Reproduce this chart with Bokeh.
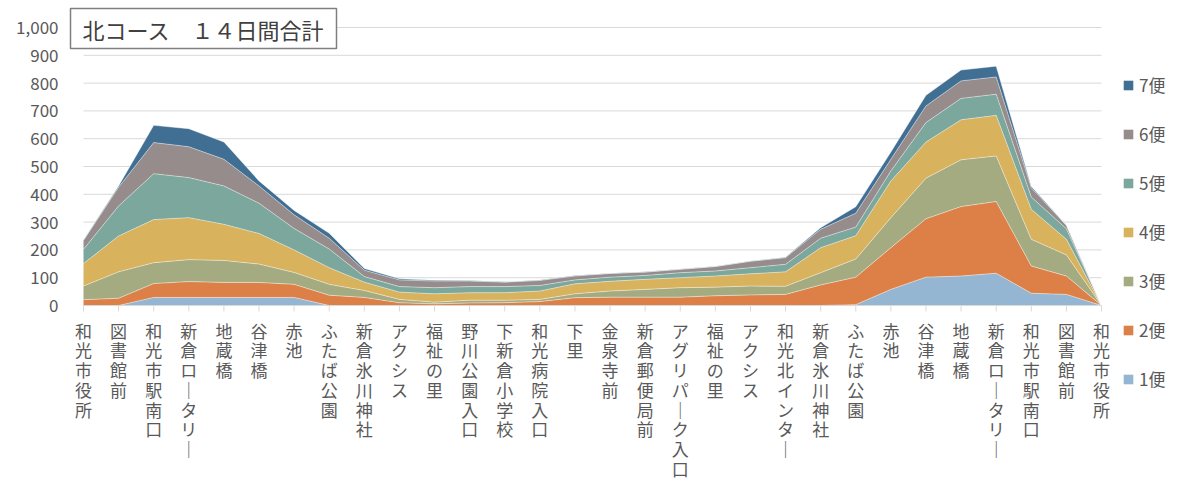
import math
from bokeh.plotting import figure
from bokeh.models import (ColumnDataSource, Range1d, Label, Legend, LegendItem)
from bokeh.core.properties import value
from bokeh.embed import file_html
from bokeh.resources import INLINE

stops = ["和光市役所", "図書館前", "和光市駅南口", "新倉ロータリー", "地蔵橋", "谷津橋", "赤池",
         "ふたば公園", "新倉氷川神社", "アクシス", "福祉の里", "野川公園入口", "下新倉小学校",
         "和光病院入口", "下里", "金泉寺前", "新倉郵便局前", "アグリパーク入口", "福祉の里", "アクシス",
         "和光北インター", "新倉氷川神社", "ふたば公園", "赤池", "谷津橋", "地蔵橋", "新倉ロータリー",
         "和光市駅南口", "図書館前", "和光市役所"]

series_names = ["1便", "2便", "3便", "4便", "5便", "6便", "7便"]

bin1 = [0, 0, 29, 29, 29, 29, 29, 0, 0, 0, 0, 0, 0, 0, 0, 0, 0, 0, 0, 0, 0, 0, 3, 58, 102, 106, 116, 44, 40, 0]
bin2 = [21, 26, 50, 57, 54, 54, 47, 37, 29, 10, 6, 9, 10, 14, 28, 30, 30, 30, 35, 38, 40, 74, 99, 150, 210, 250, 258, 98, 66, 0]
bin3 = [49, 95, 75, 79, 79, 66, 43, 39, 25, 12, 6, 10, 9, 8, 14, 22, 28, 34, 31, 32, 29, 44, 65, 108, 146, 168, 164, 96, 76, 0]
bin4 = [81, 129, 155, 151, 130, 110, 81, 60, 30, 26, 30, 27, 27, 30, 36, 35, 36, 36, 40, 44, 52, 90, 84, 132, 130, 144, 146, 108, 56, 0]
bin5 = [51, 108, 165, 144, 138, 109, 77, 67, 20, 20, 22, 22, 22, 20, 14, 15, 14, 18, 18, 22, 27, 34, 31, 36, 70, 77, 76, 44, 38, 0]
bin6 = [32, 67, 112, 111, 96, 62, 49, 39, 23, 24, 24, 20, 16, 18, 14, 13, 12, 12, 16, 23, 24, 32, 50, 42, 60, 63, 62, 33, 12, 0]
bin7 = [2, 5, 62, 65, 62, 18, 16, 18, 6, 4, 3, 2, 1, 2, 2, 1, 1, 1, 1, 1, 2, 6, 23, 26, 38, 39, 39, 5, 1, 0]

y_ticks = [0, 100, 200, 300, 400, 500, 600, 700, 800, 900, 1000]

colors = ["#94B6D2", "#DD8047", "#A5AB81", "#D8B25C", "#7BA79D", "#968C8C", "#416F94"]
FONT = "Noto Sans CJK JP"
TXT = "#595959"
GRID = "#D9D9D9"

# ---- layout (pixels) ----
W, H = 1177, 481
PLOT_L, PLOT_R, PLOT_T, PLOT_B = 83, 1101, 27, 305
n = len(stops)
ppx = (PLOT_R - PLOT_L) / (n - 1)          # px per category
ppy = (PLOT_B - PLOT_T) / y_ticks[-1]      # px per unit

x_range = Range1d(-PLOT_L / ppx, (n - 1) + (W - PLOT_R) / ppx)
y_range = Range1d(-(H - PLOT_B) / ppy, PLOT_B / ppy)

p = figure(width=W, height=H, output_backend="svg", toolbar_location=None,
           x_range=x_range, y_range=y_range, x_axis_location=None, y_axis_location=None,
           min_border=0)
p.outline_line_color = None
p.grid.visible = False
p.background_fill_color = "white"
p.border_fill_color = "white"

# horizontal gridlines (value axis)
grid_src = ColumnDataSource(dict(y=y_ticks[1:], x0=[0] * (len(y_ticks) - 1),
                                 x1=[n - 1] * (len(y_ticks) - 1)))
p.segment(x0="x0", x1="x1", y0="y", y1="y", source=grid_src, line_color=GRID, line_width=1)

# stacked areas
data = {"x": list(range(n))}
for name, vals in zip(series_names, [bin1, bin2, bin3, bin4, bin5, bin6, bin7]):
    data[name] = vals
src = ColumnDataSource(data)
rs = p.varea_stack(stackers=series_names, x="x", color=colors, source=src)
p.vline_stack(stackers=series_names, x="x", color="white", line_width=0.8, line_alpha=0.55, source=src)

# category axis line and ticks
p.segment(x0=0, x1=n - 1, y0=0, y1=0, line_color=GRID, line_width=1)
p.ray(x=list(range(n)), y=[0] * n, length=6, length_units="screen", angle=-math.pi / 2,
      line_color=GRID, line_width=1)


def vertical(s):
    return "\n".join("｜" if c == "ー" else c for c in s)


lab_src = ColumnDataSource(dict(x=list(range(n)), y=[0] * n, t=[vertical(s) for s in stops]))
p.text(x="x", y="y", text="t", source=lab_src, y_offset=12, text_align="center",
       text_baseline="top", text_font=value(FONT), text_font_size="17px",
       text_line_height=0.79, text_color=TXT)

# value axis labels
ylab_src = ColumnDataSource(dict(x=[0] * len(y_ticks), y=y_ticks, t=[f"{v:,}" for v in y_ticks]))
p.text(x="x", y="y", text="t", source=ylab_src, x_offset=-25, text_align="right",
       text_baseline="middle", text_font=value(FONT), text_font_size="17px", text_color=TXT)

# chart title in a box
title = Label(x=70, y=H - 8, x_units="screen", y_units="screen", text="北コース　１４日間合計",
              text_font=FONT, text_font_size="22px", text_color="#404040", text_baseline="top",
              border_line_color="#7F7F7F", border_line_width=1.5, background_fill_color="white",
              padding=(12, 4))
p.add_layout(title)

items = [LegendItem(label=nm, renderers=[r]) for nm, r in reversed(list(zip(series_names, rs)))]
legend = Legend(items=items, location=(1122, 90), orientation="vertical",
                glyph_width=12, glyph_height=12, label_height=20, spacing=24, padding=0, margin=0,
                border_line_color=None, background_fill_alpha=0,
                label_text_font=FONT, label_text_font_size="17px", label_text_color=TXT,
                label_standoff=5)
p.add_layout(legend)

open("out.html", "w").write(file_html(p, INLINE))
